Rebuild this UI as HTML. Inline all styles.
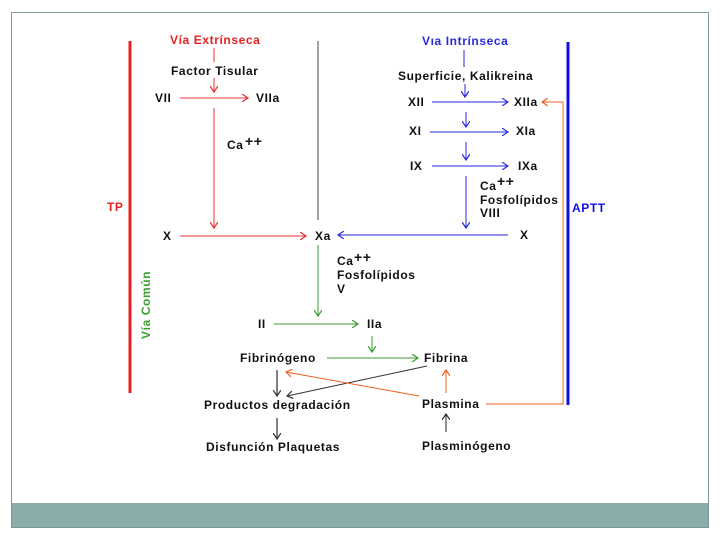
<!DOCTYPE html>
<html><head><style>body{margin:0;background:#fff}svg{display:block}text{font-family:"Liberation Sans",Arial,sans-serif;font-weight:bold;font-size:12px;letter-spacing:0.6px;fill:#111}</style></head>
<body>
<svg width="720" height="540" xmlns="http://www.w3.org/2000/svg">
<defs>
<marker id="r" markerWidth="8" markerHeight="8" refX="6" refY="4" orient="auto" markerUnits="userSpaceOnUse"><path d="M0,0 L6,4 L0,8" fill="none" stroke="#e83030" stroke-width="1.2"/></marker>
<marker id="b" markerWidth="8" markerHeight="8" refX="6" refY="4" orient="auto" markerUnits="userSpaceOnUse"><path d="M0,0 L6,4 L0,8" fill="none" stroke="#2a2ae0" stroke-width="1.2"/></marker>
<marker id="g" markerWidth="8" markerHeight="8" refX="6" refY="4" orient="auto" markerUnits="userSpaceOnUse"><path d="M0,0 L6,4 L0,8" fill="none" stroke="#3aa030" stroke-width="1.2"/></marker>
<marker id="o" markerWidth="8" markerHeight="8" refX="6" refY="4" orient="auto" markerUnits="userSpaceOnUse"><path d="M0,0 L6,4 L0,8" fill="none" stroke="#f06020" stroke-width="1.2"/></marker>
<marker id="k" markerWidth="8" markerHeight="8" refX="6" refY="4" orient="auto" markerUnits="userSpaceOnUse"><path d="M0,0 L6,4 L0,8" fill="none" stroke="#333" stroke-width="1.2"/></marker>
</defs>
<rect x="11.5" y="12.5" width="697" height="515" fill="#fff" stroke="#7a9a98" stroke-width="1"/>
<rect x="12" y="503" width="696" height="24" fill="#8aadaa"/>
<line x1="130" y1="41" x2="130" y2="393" stroke="#e82020" stroke-width="3"/>
<line x1="568" y1="42" x2="568" y2="405" stroke="#1010e0" stroke-width="3"/>
<line x1="318" y1="41" x2="318" y2="220" stroke="#666" stroke-width="1.2"/>
<text x="107" y="211" style="fill:#e82020">TP</text>
<text x="572" y="212" style="fill:#1010e0">APTT</text>
<text transform="translate(150,339) rotate(-90)" style="fill:#3aa030">Vía Común</text>
<text x="170" y="44" style="fill:#e82020">Vía Extrínseca</text>
<line x1="214" y1="48" x2="214" y2="62" stroke="#e83030"/>
<text x="171" y="75">Factor Tisular</text>
<line x1="214" y1="78" x2="214" y2="92" stroke="#e83030" marker-end="url(#r)"/>
<text x="155" y="102">VII</text>
<line x1="180" y1="98" x2="248" y2="98" stroke="#e83030" marker-end="url(#r)"/>
<text x="256" y="102">VIIa</text>
<line x1="214" y1="108" x2="214" y2="228" stroke="#e83030" marker-end="url(#r)"/>
<text x="227" y="149">Ca</text><text x="245" y="146" style="font-size:14px">++</text>
<text x="163" y="240">X</text>
<line x1="180" y1="236" x2="306" y2="236" stroke="#e83030" marker-end="url(#r)"/>
<text x="315" y="240">Xa</text>
<text x="422" y="45" style="fill:#2a2ae0">Vıa Intrínseca</text>
<line x1="464" y1="50" x2="464" y2="67" stroke="#2a2ae0"/>
<text x="398" y="80">Superficie, Kalikreina</text>
<line x1="465" y1="84" x2="465" y2="97" stroke="#2a2ae0" marker-end="url(#b)"/>
<text x="408" y="106">XII</text>
<line x1="432" y1="102" x2="508" y2="102" stroke="#2a2ae0" marker-end="url(#b)"/>
<text x="514" y="106">XIIa</text>
<line x1="466" y1="112" x2="466" y2="127" stroke="#2a2ae0" marker-end="url(#b)"/>
<text x="409" y="135">XI</text>
<line x1="430" y1="132" x2="508" y2="132" stroke="#2a2ae0" marker-end="url(#b)"/>
<text x="516" y="135">XIa</text>
<line x1="466" y1="142" x2="466" y2="160" stroke="#2a2ae0" marker-end="url(#b)"/>
<text x="410" y="170">IX</text>
<line x1="432" y1="166" x2="508" y2="166" stroke="#2a2ae0" marker-end="url(#b)"/>
<text x="518" y="170">IXa</text>
<line x1="466" y1="176" x2="466" y2="228" stroke="#2a2ae0" marker-end="url(#b)"/>
<text x="480" y="190">Ca</text><text x="497" y="186" style="font-size:14px">++</text>
<text x="480" y="204">Fosfolípidos</text>
<text x="480" y="217">VIII</text>
<line x1="508" y1="235" x2="338" y2="235" stroke="#2a2ae0" marker-end="url(#b)"/>
<text x="520" y="239">X</text>
<line x1="318" y1="245" x2="318" y2="316" stroke="#3aa030" marker-end="url(#g)"/>
<text x="337" y="265">Ca</text><text x="354" y="262" style="font-size:14px">++</text>
<text x="337" y="279">Fosfolípidos</text>
<text x="337" y="293">V</text>
<text x="258" y="328">II</text>
<line x1="274" y1="324" x2="358" y2="324" stroke="#3aa030" marker-end="url(#g)"/>
<text x="367" y="328">IIa</text>
<line x1="372" y1="336" x2="372" y2="352" stroke="#3aa030" marker-end="url(#g)"/>
<text x="240" y="362">Fibrinógeno</text>
<line x1="327" y1="358" x2="418" y2="358" stroke="#3aa030" marker-end="url(#g)"/>
<text x="424" y="362">Fibrina</text>
<line x1="427" y1="366" x2="287" y2="396" stroke="#333" marker-end="url(#k)"/>
<line x1="419" y1="396" x2="286" y2="372" stroke="#f06020" marker-end="url(#o)"/>
<line x1="446" y1="393" x2="446" y2="370" stroke="#f06020" marker-end="url(#o)"/>
<path d="M486,404 L563,404 L563,102 L542,102" fill="none" stroke="#f06020" marker-end="url(#o)"/>
<line x1="277" y1="370" x2="277" y2="396" stroke="#555" stroke-width="1.5" marker-end="url(#k)"/>
<text x="204" y="409">Productos degradación</text>
<text x="422" y="408">Plasmina</text>
<line x1="446" y1="432" x2="446" y2="414" stroke="#222" marker-end="url(#k)"/>
<line x1="277" y1="418" x2="277" y2="439" stroke="#555" stroke-width="1.5" marker-end="url(#k)"/>
<text x="206" y="451">Disfunción Plaquetas</text>
<text x="422" y="450">Plasminógeno</text>
</svg>
</body></html>
